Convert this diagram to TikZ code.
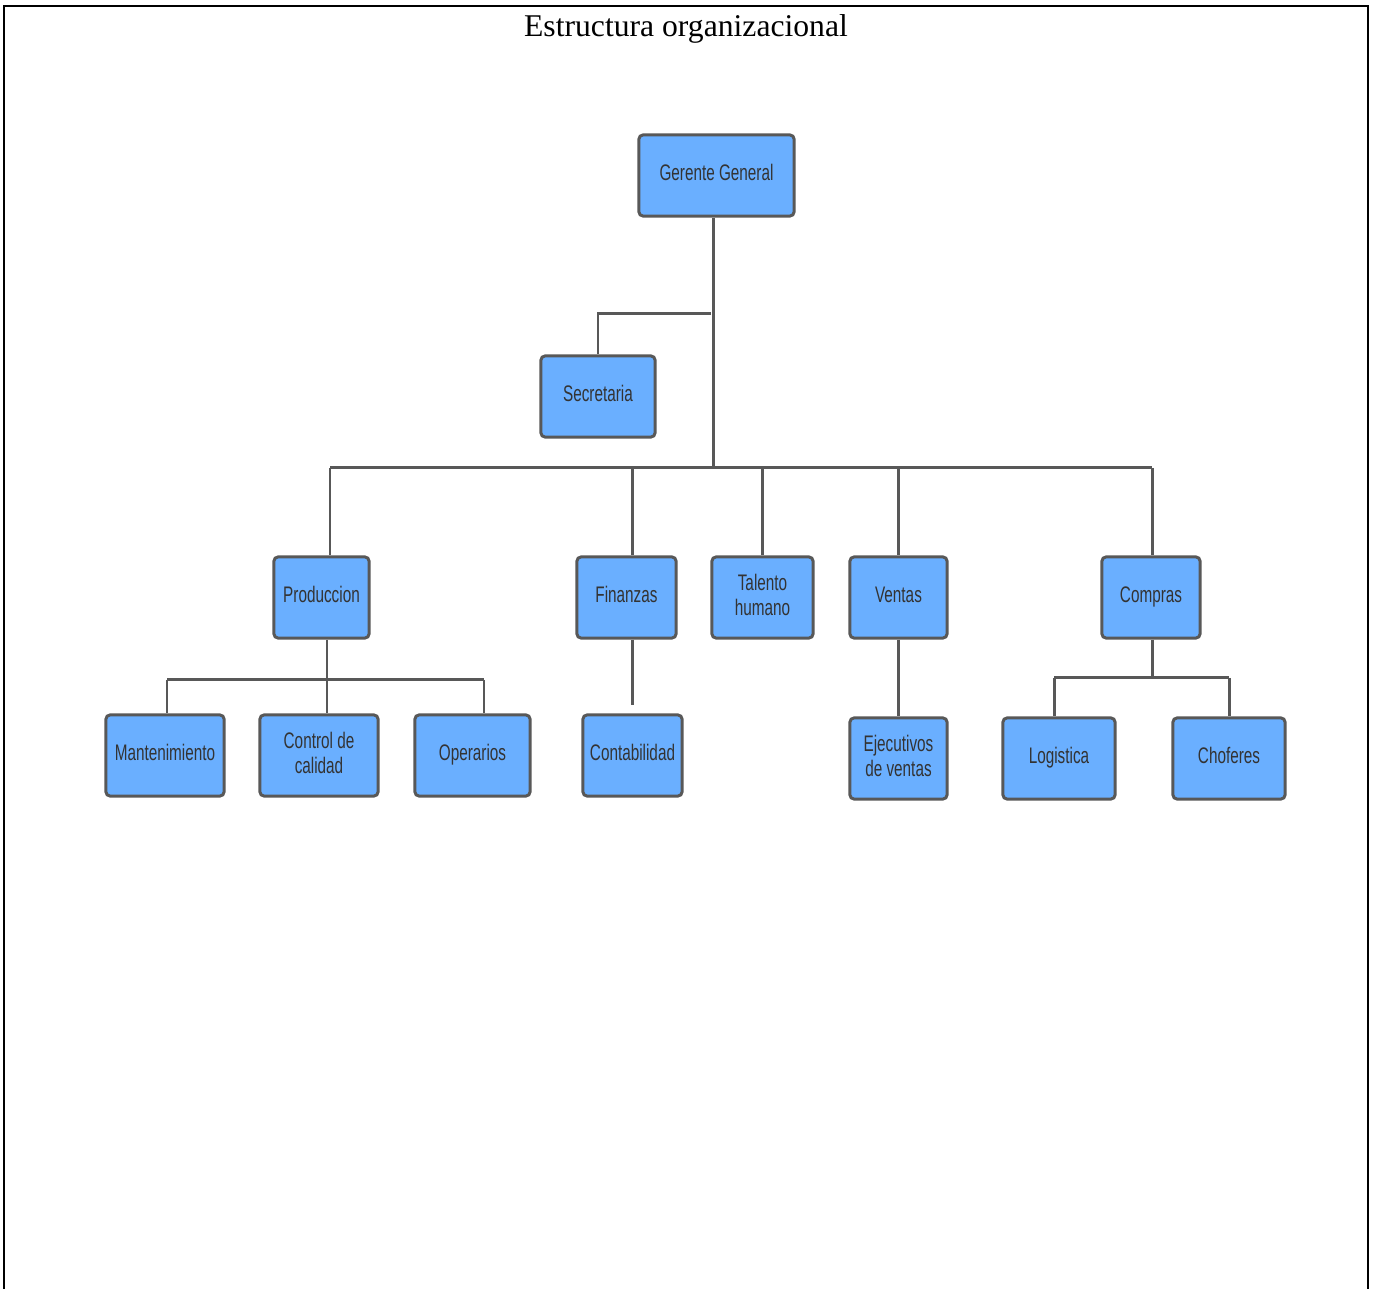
\documentclass[tikz,border=0pt]{standalone}
\usepackage{fontspec}
\setmainfont{Liberation Serif}
\newfontfamily\boxfont[FakeStretch=0.68]{Liberation Sans}
\usepackage{tikz}
\usetikzlibrary{calc}

\definecolor{boxblue}{RGB}{106,175,255}
\definecolor{boxline}{RGB}{88,88,88}

\begin{document}
\begin{tikzpicture}[x=0.01cm,y=-0.01cm,
  unit/.style={draw=boxline,line width=0.85pt,fill=boxblue,rounded corners=0.04cm,
    minimum height=0.81cm,inner sep=0pt,align=center,text=black!80,text depth=1.6pt,
    font=\boxfont\fontsize{6.4}{7.1}\selectfont},
  conn/.style={draw=boxline,line width=0.85pt}]
\useasboundingbox (0,0) rectangle (1375,1289);
\draw[line width=0.6pt] (4,1289) -- (4,6) -- (1368,6) -- (1368,1289);
\node (title) at (686,29) {\fontsize{9}{10}\selectfont Estructura organizacional};

\node[unit,minimum width=1.55cm] (gg) at (716.5,175.5) {Gerente General};
\node[unit,minimum width=1.14cm] (sec) at (598,396.5) {Secretaria};
\node[unit,minimum width=0.95cm] (prod) at (321.5,597.5) {Produccion};
\node[unit,minimum width=0.99cm] (fin) at (626.5,597.5) {Finanzas};
\node[unit,minimum width=1.01cm] (tal) at (762.5,597.5) {Talento\\humano};
\node[unit,minimum width=0.97cm] (ven) at (898.5,597.5) {Ventas};
\node[unit,minimum width=0.98cm] (comp) at (1151,597.5) {Compras};
\node[unit,minimum width=1.18cm] (mant) at (165,755.5) {Mantenimiento};
\node[unit,minimum width=1.18cm] (ctrl) at (319,755.5) {Control de\\calidad};
\node[unit,minimum width=1.15cm] (oper) at (472.5,755.5) {Operarios};
\node[unit,minimum width=0.99cm] (cont) at (632.5,755.5) {Contabilidad};
\node[unit,minimum width=0.97cm] (ejec) at (898.5,758.5) {Ejecutivos\\de ventas};
\node[unit,minimum width=1.12cm] (log) at (1059,758.5) {Logistica};
\node[unit,minimum width=1.12cm] (chof) at (1229,758.5) {Choferes};

% junctions
\coordinate (jsec) at (711,314);
\coordinate (jbus) at (713,468);
\coordinate (bl) at (330,468);
\coordinate (br) at (1152,468);
\coordinate (jprod) at (327,680);
\coordinate (ml) at (167,680);
\coordinate (mr) at (484,680);
\coordinate (jcomp) at (1152,678);
\coordinate (cl) at (1054,678);
\coordinate (cr) at (1229,678);

\draw[conn] (jbus |- gg.south) -- (jbus);
\draw[conn] (jsec) -- (jsec -| sec.north) -- (sec.north);
\draw[conn] (bl) -- (br);
\draw[conn] (bl) -- (bl |- prod.north);
\draw[conn] (cont.north |- jbus) -- (cont.north |- fin.north);
\draw[conn] (tal.north |- jbus) -- (tal.north);
\draw[conn] (ven.north |- jbus) -- (ven.north);
\draw[conn] (br) -- (br |- comp.north);

\draw[conn] (jprod |- prod.south) -- (jprod);
\draw[conn] (ml) -- (mr);
\draw[conn] (ml) -- (ml |- mant.north);
\draw[conn] (jprod) -- (jprod |- ctrl.north);
\draw[conn] (mr) -- (mr |- oper.north);

\draw[conn,shorten >=0.08cm] (cont.north |- fin.south) -- (cont.north);
\draw[conn] (ven.south) -- (ejec.north);

\draw[conn] (jcomp |- comp.south) -- (jcomp);
\draw[conn] (cl) -- (cr);
\draw[conn] (cl) -- (cl |- log.north);
\draw[conn] (cr) -- (cr |- chof.north);
\end{tikzpicture}
\end{document}
